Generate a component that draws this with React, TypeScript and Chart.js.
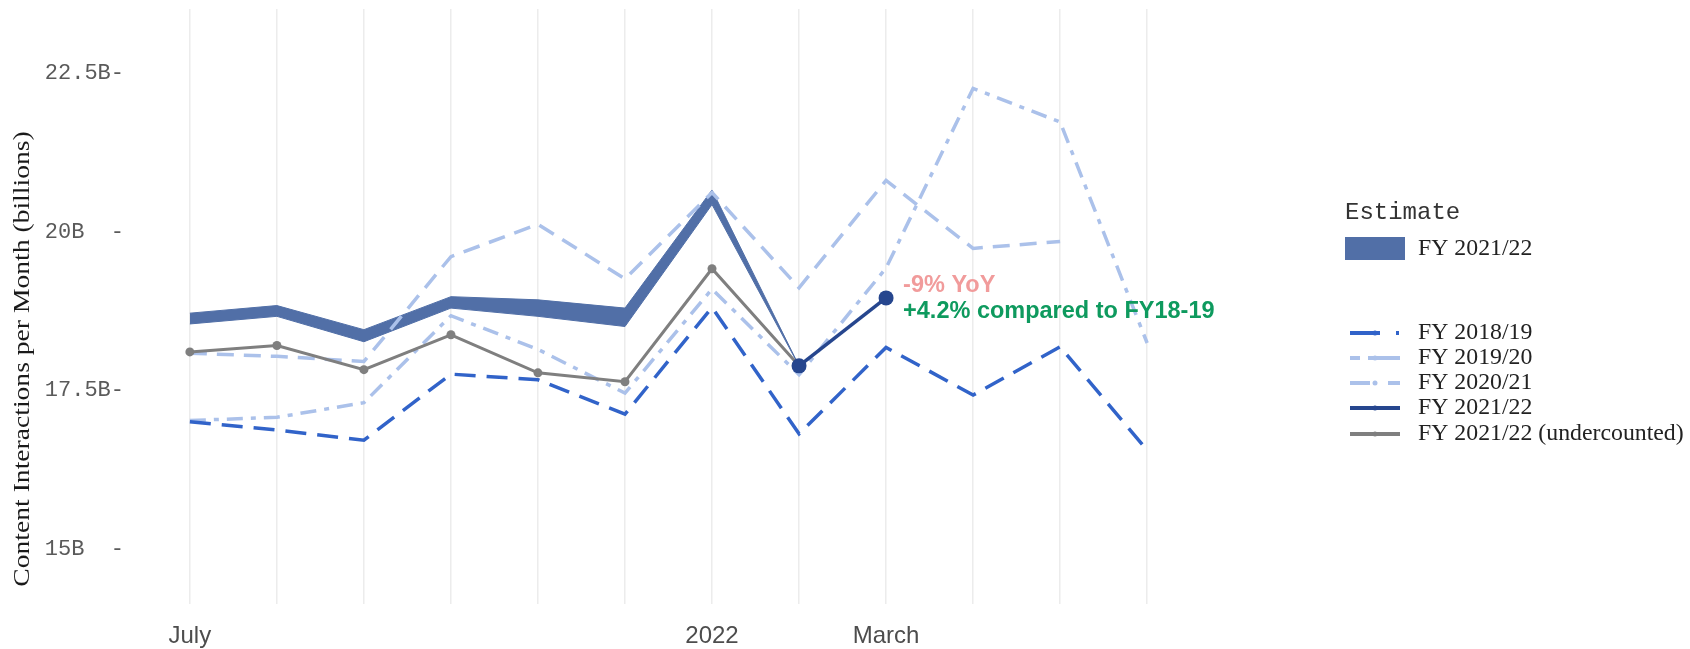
import React, { useEffect, useRef } from 'react';
import { Chart, registerables } from 'chart.js';

Chart.register(...registerables);

// ---------- data ----------
const months = ['Jul', 'Aug', 'Sep', 'Oct', 'Nov', 'Dec', 'Jan', 'Feb', 'Mar', 'Apr', 'May', 'Jun'];
const xTickLabels = ['July', '', '', '', '', '', '2022', '', 'March', '', '', ''];
const yTicks = [15, 17.5, 20, 22.5];
const yTickLabels = ['15B  -', '17.5B-', '20B  -', '22.5B-'];
const yTitle = 'Content Interactions per Month (billions)';

const fy1819 = [17.01, 16.88, 16.72, 17.76, 17.67, 17.13, 18.81, 16.82, 18.18, 17.43, 18.19, 16.56];
const fy1920 = [18.09, 18.04, 17.96, 19.61, 20.12, 19.26, 20.62, 19.12, 20.81, 19.74, 19.85, null];
const fy2021 = [17.03, 17.08, 17.31, 18.68, 18.15, 17.46, 19.1, 17.75, 19.43, 22.26, 21.73, 18.25];
const fy2122 = [null, null, null, null, null, null, null, 17.89, 18.96, null, null, null];
const fy2122Under = [18.11, 18.21, 17.83, 18.38, 17.78, 17.64, 19.42, 17.89, null, null, null, null];
const estimateHigh = [18.72, 18.84, 18.46, 18.98, 18.93, 18.8, 20.66, 17.89, null, null, null, null];
const estimateLow = [18.55, 18.67, 18.27, 18.8, 18.67, 18.51, 20.43, 17.89, null, null, null, null];

const annotationIndex = 8;
const annoYoY = '-9% YoY';
const annoFY = '+4.2% compared to FY18-19';

const legendTitle = 'Estimate';
const bandLabel = 'FY 2021/22';
const lineLabels = ['FY 2018/19', 'FY 2019/20', 'FY 2020/21', 'FY 2021/22', 'FY 2021/22 (undercounted)'];

// ---------- styles ----------
const C_1819 = '#3163c9';
const C_LIGHT = '#abc1ea';
const C_NAVY = '#26468e';
const C_GRAY = '#7f7f7f';
const C_BAND = '#516fa7';

const pts = (arr: (number | null)[]) => arr.map((v, i) => ({ x: i, y: v }));

const overlay = {
  id: 'overlay',
  afterDraw(chart: any) {
    const ctx = chart.ctx as CanvasRenderingContext2D;
    const xs = chart.scales.x;
    const ys = chart.scales.y;

    // y title
    ctx.save();
    ctx.translate(23, 359);
    ctx.rotate(-Math.PI / 2);
    ctx.scale(1.2, 1);
    ctx.font = '23px "Liberation Serif"';
    ctx.fillStyle = '#1a1a1a';
    ctx.textAlign = 'center';
    ctx.textBaseline = 'middle';
    ctx.fillText(yTitle, 0, 0);
    ctx.restore();

    // annotations
    const ax = xs.getPixelForValue(annotationIndex) + 17;
    const ay = ys.getPixelForValue(fy2122[annotationIndex] as number);
    ctx.save();
    ctx.font = 'bold 23.5px "Liberation Sans"';
    ctx.textAlign = 'left';
    ctx.textBaseline = 'middle';
    ctx.fillStyle = '#f19b9b';
    ctx.fillText(annoYoY, ax, ay - 12.5);
    ctx.fillStyle = '#0e9a5e';
    ctx.fillText(annoFY, ax, ay + 14);
    ctx.restore();

    // legend
    ctx.save();
    ctx.textAlign = 'left';
    ctx.textBaseline = 'middle';
    ctx.font = '24px "Liberation Mono"';
    ctx.fillStyle = '#333';
    ctx.fillText(legendTitle, 1345, 213);
    ctx.fillStyle = C_BAND;
    ctx.fillRect(1345, 237, 60, 23);
    ctx.font = '23.8px "Liberation Serif"';
    ctx.fillStyle = '#222';
    ctx.fillText(bandLabel, 1418, 249);

    const rows = [333, 358, 383, 408, 434];
    const styles: { color: string; dash: number[]; r: number }[] = [
      { color: C_1819, dash: [30, 16, 3, 40], r: 2.5 },
      { color: C_LIGHT, dash: [10, 8, 40], r: 2.5 },
      { color: C_LIGHT, dash: [20, 18, 12, 40], r: 2.5 },
      { color: C_NAVY, dash: [], r: 2.5 },
      { color: C_GRAY, dash: [], r: 2.5 },
    ];
    rows.forEach((y, i) => {
      const s = styles[i];
      ctx.strokeStyle = s.color;
      ctx.lineWidth = 4;
      ctx.setLineDash(s.dash);
      ctx.beginPath();
      ctx.moveTo(1350, y);
      ctx.lineTo(1400, y);
      ctx.stroke();
      ctx.setLineDash([]);
      ctx.fillStyle = s.color;
      ctx.beginPath();
      ctx.arc(1375, y, s.r, 0, Math.PI * 2);
      ctx.fill();
      ctx.fillStyle = '#222';
      ctx.fillText(lineLabels[i], 1418, y);
    });
    ctx.restore();
  },
};

export default function App() {
  const ref = useRef<HTMLCanvasElement | null>(null);

  useEffect(() => {
    if (!ref.current) return;
    const chart = new Chart(ref.current, {
      type: 'line',
      data: {
        datasets: [
          {
            label: 'estHigh',
            data: pts(estimateHigh),
            borderColor: C_BAND,
            borderWidth: 1,
            backgroundColor: C_BAND,
            pointRadius: 0,
            fill: '+1',
            order: 20,
          },
          {
            label: 'estLow',
            data: pts(estimateLow),
            borderColor: C_BAND,
            borderWidth: 1,
            pointRadius: 0,
            fill: false,
            order: 21,
          },
          {
            label: lineLabels[2],
            data: pts(fy2021),
            borderColor: C_LIGHT,
            borderWidth: 3.5,
            borderDash: [16, 8, 5, 8],
            pointRadius: 0,
            fill: false,
            order: 12,
          },
          {
            label: lineLabels[1],
            data: pts(fy1920),
            borderColor: C_LIGHT,
            borderWidth: 3.5,
            borderDash: [17, 10],
            pointRadius: 0,
            fill: false,
            order: 11,
          },
          {
            label: lineLabels[0],
            data: pts(fy1819),
            borderColor: C_1819,
            borderWidth: 3.5,
            borderDash: [21, 11],
            pointRadius: 0,
            fill: false,
            order: 10,
          },
          {
            label: lineLabels[4],
            data: pts(fy2122Under),
            borderColor: C_GRAY,
            backgroundColor: C_GRAY,
            borderWidth: 3,
            pointRadius: 4.5,
            pointBorderWidth: 0,
            fill: false,
            order: 5,
          },
          {
            label: lineLabels[3],
            data: pts(fy2122),
            borderColor: C_NAVY,
            backgroundColor: C_NAVY,
            borderWidth: 3.5,
            pointRadius: 7.5,
            pointBorderWidth: 0,
            fill: false,
            order: 4,
          },
        ],
      },
      options: {
        animation: false,
        responsive: true,
        maintainAspectRatio: false,
        events: [],
        layout: { padding: { left: 0, top: 9, right: 495, bottom: 0 } },
        plugins: {
          legend: { display: false },
          tooltip: { enabled: false },
        },
        elements: { line: { tension: 0 } },
        scales: {
          x: {
            type: 'linear',
            min: -0.55,
            max: 11.55,
            afterBuildTicks: (scale: any) => {
              scale.ticks = months.map((_, i) => ({ value: i }));
            },
            afterFit: (scale: any) => {
              scale.height = 45;
              scale.paddingLeft = 0;
              scale.paddingRight = 0;
            },
            ticks: {
              autoSkip: false,
              maxRotation: 0,
              padding: 18,
              color: '#4d4d4d',
              font: { family: '"Liberation Sans"', size: 24 },
              callback: (v: any) => xTickLabels[Math.round(Number(v))] ?? '',
            },
            grid: { color: '#ececec', lineWidth: 1.5, drawTicks: false },
            border: { display: false },
          },
          y: {
            type: 'linear',
            min: 14.14,
            max: 23.51,
            afterBuildTicks: (scale: any) => {
              scale.ticks = yTicks.map((v) => ({ value: v }));
            },
            afterFit: (scale: any) => {
              scale.width = 142;
              scale.paddingTop = 0;
              scale.paddingBottom = 0;
            },
            ticks: {
              padding: 18,
              color: '#5a5a5a',
              font: { family: '"Liberation Mono"', size: 22 },
              callback: (v: any) => {
                const i = yTicks.indexOf(Number(v));
                return i >= 0 ? yTickLabels[i] : '';
              },
            },
            grid: { display: false, drawTicks: false },
            border: { display: false },
          },
        },
      },
      plugins: [overlay],
    });
    return () => chart.destroy();
  }, []);

  return (
    <div style={{ position: 'fixed', left: 0, top: 0, width: 1690, height: 649, background: '#fff' }}>
      <canvas ref={ref} />
    </div>
  );
}
